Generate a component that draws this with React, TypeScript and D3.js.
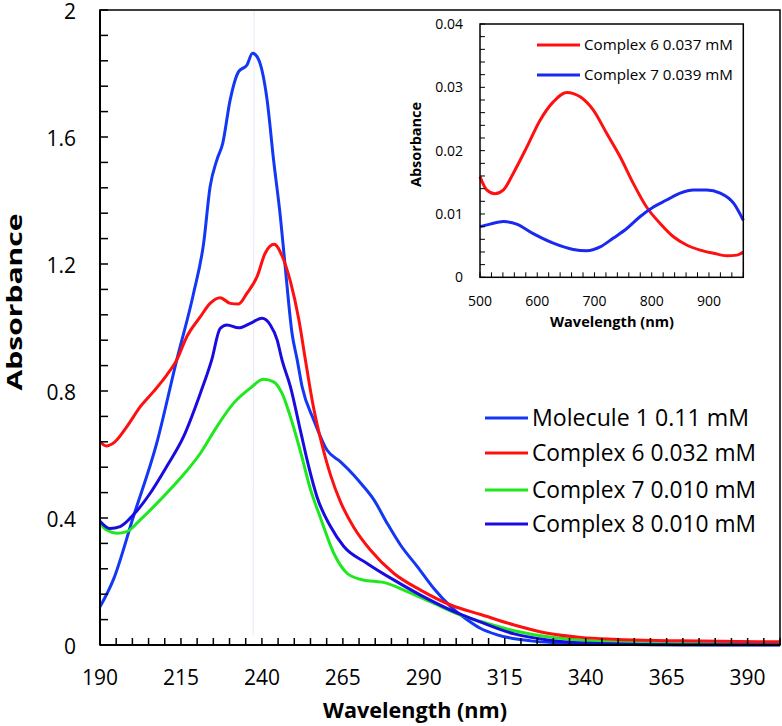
import React from "react";
import * as d3 from "d3";

// ---------- Main chart data ----------
const mol1Nm = [190, 194.1, 200.3, 207.5, 213.7, 218.9, 222, 224, 226.1, 227.9, 230.2, 232.8, 235.4, 237.1, 238.5, 240, 241.6, 243.6, 245.7, 247.2, 249.3, 250.9, 252.4, 256, 260.1, 264.3, 268.4, 271, 274.6, 278.7, 282.8, 288, 293.1, 298.3, 303.5, 307.6, 312.7, 323, 338.5, 360, 400];
const mol1Abs = [0.12, 0.205, 0.404, 0.635, 0.898, 1.108, 1.265, 1.443, 1.528, 1.58, 1.717, 1.806, 1.827, 1.864, 1.853, 1.811, 1.717, 1.528, 1.349, 1.191, 0.982, 0.898, 0.814, 0.709, 0.614, 0.577, 0.535, 0.504, 0.457, 0.383, 0.315, 0.247, 0.178, 0.121, 0.079, 0.052, 0.032, 0.013, 0.004, 0.001, 0.0];

const c6Nm = [190, 191.9, 194.6, 198.3, 202.4, 206.5, 210.6, 213.7, 216.8, 221, 224, 227.1, 230.2, 232.8, 235.4, 238.5, 241, 243.8, 246.2, 248.8, 251.4, 253.4, 256, 258.1, 261.2, 264.3, 268.4, 273.5, 280.7, 289, 298.3, 307.6, 317.9, 328.2, 338.5, 348.8, 369.4, 400];
const c6Abs = [0.64, 0.627, 0.64, 0.688, 0.75, 0.798, 0.85, 0.898, 0.971, 1.034, 1.076, 1.094, 1.076, 1.074, 1.108, 1.16, 1.234, 1.262, 1.226, 1.145, 1.025, 0.9, 0.745, 0.65, 0.535, 0.45, 0.37, 0.299, 0.226, 0.173, 0.126, 0.096, 0.063, 0.037, 0.024, 0.018, 0.013, 0.01];

const c7Nm = [190, 192.1, 195.2, 198.3, 202.4, 208.6, 214.8, 221, 226.1, 231.2, 236.4, 240.5, 243.6, 246.2, 248.8, 251.9, 255, 258.1, 262.2, 266.3, 270.4, 278.7, 284.9, 293.1, 301.4, 307.6, 317.9, 328.2, 338.5, 359, 400];
const c7Abs = [0.383, 0.362, 0.352, 0.357, 0.394, 0.457, 0.525, 0.604, 0.688, 0.761, 0.809, 0.837, 0.829, 0.793, 0.719, 0.61, 0.49, 0.4, 0.289, 0.226, 0.207, 0.194, 0.168, 0.131, 0.094, 0.074, 0.045, 0.026, 0.016, 0.007, 0.005];

const c8Nm = [190, 193.1, 196.2, 200.3, 205.5, 210.6, 215.8, 221, 224.5, 227.1, 229.2, 232.8, 236.4, 240, 242.6, 244.7, 246.2, 248.8, 251.9, 254.5, 257, 261.2, 265.3, 272.5, 280.7, 289, 298.3, 307.6, 317.9, 328.2, 343.6, 370, 400];
const c8Abs = [0.39, 0.367, 0.373, 0.41, 0.478, 0.562, 0.656, 0.793, 0.898, 0.997, 1.008, 0.999, 1.013, 1.029, 1.008, 0.961, 0.898, 0.814, 0.675, 0.56, 0.467, 0.373, 0.31, 0.257, 0.205, 0.157, 0.11, 0.072, 0.035, 0.016, 0.005, 0.001, 0.001];

const mainLabels = ["Molecule 1 0.11 mM", "Complex 6 0.032 mM", "Complex 7 0.010 mM", "Complex 8 0.010 mM"];
const mainColors = ["#1238f5", "#ff1010", "#1ee81e", "#1a0ce0"];
const mainXTicks = [190, 215, 240, 265, 290, 315, 340, 365, 390];
const mainYTicks = [0, 0.4, 0.8, 1.2, 1.6, 2];

// ---------- Inset data ----------
const i6Nm = [500, 511.7, 526, 541, 558, 582, 605, 628, 651.5, 675, 698, 721.5, 745, 768, 791, 814.7, 838, 861, 884.6, 908, 931, 949, 960];
const i6Abs = [0.0159, 0.0138, 0.0132, 0.0138, 0.0164, 0.0206, 0.0248, 0.0277, 0.0292, 0.0285, 0.0264, 0.0227, 0.019, 0.0148, 0.0111, 0.0085, 0.0064, 0.0051, 0.0043, 0.0038, 0.0034, 0.0035, 0.004];
const i7Nm = [500, 517.5, 541, 564, 593, 628, 663, 686.5, 710, 733, 756.5, 780, 803, 826, 849.7, 873, 896, 919.6, 943, 960];
const i7Abs = [0.008, 0.0084, 0.0088, 0.0084, 0.0069, 0.0054, 0.0044, 0.0042, 0.0048, 0.0062, 0.0077, 0.0096, 0.0111, 0.0122, 0.0133, 0.0138, 0.0138, 0.0133, 0.0117, 0.009];
const insetLabels = ["Complex 6 0.037 mM", "Complex 7 0.039 mM"];
const insetColors = ["#ff1010", "#1a28f0"];
const insetXTicks = [500, 600, 700, 800, 900];
const insetYTicks = [0, 0.01, 0.02, 0.03, 0.04];

const FONT = "'Open Sans', Lato, sans-serif";

export default function App() {
  // main scales
  const x = d3.scaleLinear().domain([190, 400]).range([100, 780]);
  const y = d3.scaleLinear().domain([0, 2]).range([645, 10]);
  const line = d3
    .line<[number, number]>()
    .x((d) => x(d[0]))
    .y((d) => y(d[1]))
    .curve(d3.curveMonotoneX);
  const series = [
    d3.zip(mol1Nm, mol1Abs),
    d3.zip(c6Nm, c6Abs),
    d3.zip(c7Nm, c7Abs),
    d3.zip(c8Nm, c8Abs),
  ] as [number, number][][];
  const drawOrder = [0, 2, 3, 1];

  const yMinor = d3.range(0, 2.0001, 0.08);
  const xMinor = d3.range(190, 400.001, 5);

  // inset scales
  const ix = d3.scaleLinear().domain([500, 960]).range([480, 743.3]);
  const iy = d3.scaleLinear().domain([0, 0.04]).range([277.3, 24]);
  const iline = d3
    .line<[number, number]>()
    .x((d) => ix(d[0]))
    .y((d) => iy(d[1]))
    .curve(d3.curveMonotoneX);
  const iseries = [d3.zip(i6Nm, i6Abs), d3.zip(i7Nm, i7Abs)] as [number, number][][];
  const iyMinor = d3.range(0, 0.04001, 0.002);
  const ixMinor = d3.range(500, 960.001, 20);

  const legendY = [418, 453, 490, 524];
  const legendW = [217, 224, 224, 224];
  const insetLegendY = [45, 75];

  return (
    <svg
      width={782}
      height={726}
      style={{ position: "absolute", left: 0, top: 0, background: "#fff" }}
      fontFamily={FONT}
    >
      <rect x={0} y={0} width={782} height={726} fill="#fff" />
      {/* faint artifact line */}
      <line x1={x(237.6)} x2={x(237.3)} y1={y(2)} y2={y(0.03)} stroke="#ececfa" strokeWidth={1.2} />

      {/* series */}
      {drawOrder.map((i) => (
        <path key={i} d={line(series[i]) || ""} fill="none" stroke={mainColors[i]} strokeWidth={3} />
      ))}

      {/* frame */}
      <rect x={100} y={10} width={680} height={635} fill="none" stroke="#000" strokeWidth={1.5} />
      <line x1={100} x2={100} y1={10} y2={645} stroke="#000" strokeWidth={2} />
      <line x1={100} x2={780} y1={645} y2={645} stroke="#000" strokeWidth={2} />

      {/* y ticks */}
      {yMinor.map((v, k) => (
        <line key={"ym" + k} x1={100} x2={108} y1={y(v)} y2={y(v)} stroke="#000" strokeWidth={1.5} />
      ))}
      {mainYTicks.map((v) => (
        <text key={"yl" + v} x={76} y={y(v)} dy="0.42em" textAnchor="end" fontSize={21} fill="#000">
          {d3.format("~g")(v)}
        </text>
      ))}
      {/* x ticks */}
      {xMinor.map((v, k) => (
        <line key={"xm" + k} x1={x(v)} x2={x(v)} y1={645} y2={638} stroke="#000" strokeWidth={1.5} />
      ))}
      {mainXTicks.map((v) => (
        <text key={"xl" + v} x={x(v)} y={685} textAnchor="middle" fontSize={21} fill="#000">
          {v}
        </text>
      ))}

      {/* axis titles */}
      <text
        x={415}
        y={718}
        textAnchor="middle"
        fontSize={21}
        fontWeight="bold"
        fill="#000"
        textLength={184}
        lengthAdjust="spacingAndGlyphs"
      >
        Wavelength (nm)
      </text>
      <text
        transform={`translate(22,302) rotate(-90)`}
        textAnchor="middle"
        fontSize={21}
        fontWeight="bold"
        fill="#000"
        textLength={177}
        lengthAdjust="spacingAndGlyphs"
      >
        Absorbance
      </text>

      {/* legend */}
      {mainLabels.map((lab, i) => (
        <g key={lab}>
          <line x1={485} x2={528} y1={legendY[i]} y2={legendY[i]} stroke={mainColors[i]} strokeWidth={3} />
          <text
            x={532}
            y={legendY[i]}
            dy="0.36em"
            fontSize={23}
            fill="#000"
            textLength={legendW[i]}
            lengthAdjust="spacingAndGlyphs"
          >
            {lab}
          </text>
        </g>
      ))}

      {/* ---------- inset ---------- */}
      {iseries.map((s, i) => (
        <path key={"is" + i} d={iline(s) || ""} fill="none" stroke={insetColors[i]} strokeWidth={3} />
      ))}
      <rect x={480} y={24} width={263.3} height={253.3} fill="none" stroke="#000" strokeWidth={1.5} />
      {iyMinor.map((v, k) => (
        <line key={"iym" + k} x1={480} x2={485} y1={iy(v)} y2={iy(v)} stroke="#000" strokeWidth={1} />
      ))}
      {insetYTicks.map((v) => (
        <text key={"iyl" + v} x={463} y={iy(v)} dy="0.36em" textAnchor="end" fontSize={14} fill="#000">
          {d3.format("~g")(v)}
        </text>
      ))}
      {ixMinor.map((v, k) => (
        <line key={"ixm" + k} x1={ix(v)} x2={ix(v)} y1={277.3} y2={272.3} stroke="#000" strokeWidth={1} />
      ))}
      {insetXTicks.map((v) => (
        <text key={"ixl" + v} x={ix(v)} y={306} textAnchor="middle" fontSize={14} fill="#000">
          {v}
        </text>
      ))}
      <text
        x={612}
        y={327}
        textAnchor="middle"
        fontSize={15}
        fontWeight="bold"
        fill="#000"
        textLength={124}
        lengthAdjust="spacingAndGlyphs"
      >
        Wavelength (nm)
      </text>
      <text
        transform={`translate(421,144.5) rotate(-90)`}
        textAnchor="middle"
        fontSize={15}
        fontWeight="bold"
        fill="#000"
        textLength={85}
        lengthAdjust="spacingAndGlyphs"
      >
        Absorbance
      </text>
      {insetLabels.map((lab, i) => (
        <g key={lab}>
          <line x1={537} x2={580} y1={insetLegendY[i]} y2={insetLegendY[i]} stroke={insetColors[i]} strokeWidth={3} />
          <text
            x={584}
            y={insetLegendY[i]}
            dy="0.36em"
            fontSize={15}
            fill="#000"
            textLength={149}
            lengthAdjust="spacingAndGlyphs"
          >
            {lab}
          </text>
        </g>
      ))}
    </svg>
  );
}
